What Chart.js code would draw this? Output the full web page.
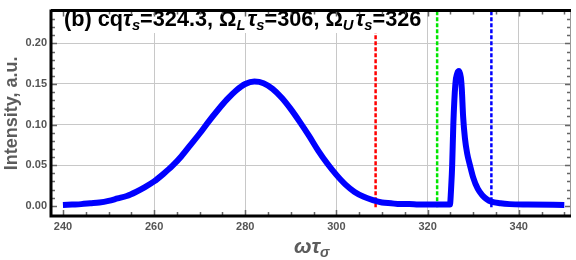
<!DOCTYPE html>
<html>
<head>
<meta charset="utf-8">
<script src="https://cdn.jsdelivr.net/npm/chart.js@4.4.1/dist/chart.umd.min.js"></script>
<style>
  html, body { margin: 0; padding: 0; background: #fff; }
  #wrap { width: 576px; height: 260px; }
</style>
</head>
<body>
<div id="wrap"><canvas id="spectrum" width="576" height="260"></canvas></div>
<script>
// omega*tau_sigma values and intensity
const omegaTau = [
  240, 242, 244, 246, 248, 250, 252, 254, 256, 258,
  260, 262, 264, 266, 268, 270, 272, 274, 276, 278,
  280, 282, 284, 286, 288, 290, 292, 294, 296, 298,
  300, 302, 304, 306, 308, 310, 312, 314, 316, 318,
  320, 322, 324, 324.9, 325.2, 325.4, 325.65, 326.1, 326.5, 326.9,
  327.3, 327.5, 327.8, 328.2, 328.7, 329.3, 330, 331, 332, 333,
  334, 336, 338, 342, 350
];
const intensity = [
  0.001, 0.0015, 0.002, 0.003, 0.004, 0.006, 0.009, 0.012, 0.017, 0.023,
  0.030, 0.039, 0.049, 0.061, 0.075, 0.089, 0.104, 0.118, 0.131, 0.142,
  0.150, 0.153, 0.151, 0.144, 0.133, 0.119, 0.103, 0.086, 0.068, 0.052,
  0.038, 0.026, 0.017, 0.011, 0.007, 0.004, 0.003, 0.002, 0.002, 0.0015,
  0.0015, 0.0015, 0.0015, 0.0015, 0.025, 0.05, 0.10, 0.15, 0.163, 0.166,
  0.158, 0.145, 0.11, 0.083, 0.064, 0.05, 0.035, 0.021, 0.013, 0.008,
  0.005, 0.003, 0.002, 0.0015, 0.001
];

// dashed reference lines (red, green, blue)
const markerPositions = [308.6, 322.1, 334.0];
const markerColors = ["#ff0000", "#00e600", "#0000ff"];

const xTicks = [240, 260, 280, 300, 320, 340];
const yTicks = [0, 0.05, 0.1, 0.15, 0.2];
const xRange = [237.6, 351.25];
const yRange = [-0.0114, 0.2392];

const curveData = omegaTau.map((x, i) => ({ x: x, y: intensity[i] }));

const markerSets = markerPositions.map((pos, i) => ({
  data: [{ x: pos, y: -0.002 }, { x: pos, y: yRange[1] }],
  borderColor: markerColors[i],
  borderWidth: 2.5,
  borderDash: [4, 2],
  pointRadius: 0,
  order: 2,
}));

// draw a list of text runs, some of them subscripts
function drawRuns(ctx, runs, x, y, size, color) {
  ctx.fillStyle = color;
  ctx.textBaseline = "alphabetic";
  ctx.textAlign = "left";
  runs.forEach((r) => {
    const s = r.sub ? size * 0.68 : size;
    ctx.font = `${r.style || ""} ${s}px "Liberation Sans", Arial, sans-serif`;
    ctx.fillText(r.t, x, r.sub ? y + size * 0.2 : y);
    x += ctx.measureText(r.t).width + (r.gap || 0);
  });
  return x;
}

const titleRuns = [
  { t: "(b) cq", style: "bold" },
  { t: "τ", style: "bold italic" },
  { t: "s", style: "bold italic", sub: true },
  { t: "=324.3, Ω", style: "bold" },
  { t: "L", style: "bold italic", sub: true, gap: 2 },
  { t: "τ", style: "bold italic" },
  { t: "s", style: "bold italic", sub: true },
  { t: "=306, Ω", style: "bold" },
  { t: "U", style: "bold italic", sub: true, gap: 2 },
  { t: "τ", style: "bold italic" },
  { t: "s", style: "bold italic", sub: true },
  { t: "=326", style: "bold" },
];

const labelPlugin = {
  id: "labels",
  afterDatasetsDraw(chart) {
    const ctx = chart.ctx;
    ctx.save();
    // white box behind the panel title
    ctx.fillStyle = "#fff";
    ctx.fillRect(58, 5, 368, 28);
    drawRuns(ctx, titleRuns, 64, 26, 21.7, "#000");
    ctx.restore();
  },
  afterDraw(chart) {
    const ctx = chart.ctx;
    const { left, right, top, bottom } = chart.chartArea;
    const x = chart.scales.x;
    const y = chart.scales.y;
    ctx.save();
    // small inward ticks on all four sides
    ctx.strokeStyle = "#666";
    ctx.lineWidth = 1.5;
    ctx.beginPath();
    for (let v = 240; v <= 350; v += 5) {
      const px = Math.round(x.getPixelForValue(v)) + 0.5;
      const len = v % 20 === 0 ? 5 : 3;
      ctx.moveTo(px, bottom); ctx.lineTo(px, bottom - len);
      ctx.moveTo(px, top); ctx.lineTo(px, top + len);
    }
    for (let k = 0; k <= 23; k++) {
      const py = Math.round(y.getPixelForValue(k / 100)) + 0.5;
      const len = k % 5 === 0 ? 5 : 3;
      ctx.moveTo(left, py); ctx.lineTo(left + len, py);
      ctx.moveTo(right, py); ctx.lineTo(right - len, py);
    }
    ctx.stroke();
    // frame
    ctx.strokeStyle = "#999";
    ctx.lineWidth = 1;
    ctx.beginPath();
    ctx.moveTo(right + 0.5, top); ctx.lineTo(right + 0.5, bottom);
    ctx.stroke();
    ctx.strokeStyle = "#000";
    ctx.lineWidth = 3;
    ctx.beginPath();
    ctx.moveTo(left - 1, top - 1); ctx.lineTo(right + 1, top - 1);
    ctx.moveTo(left - 1, top - 2); ctx.lineTo(left - 1, bottom + 1);
    ctx.lineTo(right + 1, bottom + 1);
    ctx.stroke();
    // x axis title: omega tau_sigma
    drawRuns(ctx, [
      { t: "ωτ", style: "bold italic" },
      { t: "σ", style: "bold italic", sub: true },
    ], 294, 253, 21, "#5c5c5c");
    ctx.restore();
  },
};

new Chart(document.getElementById("spectrum"), {
  type: "line",
  data: {
    datasets: [
      {
        data: curveData,
        borderColor: "#0000ff",
        borderWidth: 6,
        pointRadius: 0,
        cubicInterpolationMode: "monotone",
        borderCapStyle: "butt",
        order: 1,
      },
      ...markerSets,
    ],
  },
  options: {
    responsive: false,
    animation: false,
    events: [],
    layout: { padding: { top: 2, right: 6, left: 0, bottom: 0 } },
    plugins: { legend: { display: false }, tooltip: { enabled: false } },
    scales: {
      x: {
        type: "linear",
        min: xRange[0],
        max: xRange[1],
        afterBuildTicks: (scale) => {
          scale.ticks = xTicks.map((v) => ({ value: v }));
        },
        afterFit: (scale) => { scale.height = 45; },
        border: { display: false },
        grid: {
          drawTicks: false,
          color: (c) => (c.tick && c.tick.value === 240 ? "rgba(0,0,0,0)" : "#c8c8c8"),
        },
        ticks: {
          padding: 5,
          color: "#555",
          font: { family: "'Liberation Sans', Arial", size: 11, weight: "bold" },
          callback: (v) => String(v),
        },
      },
      y: {
        type: "linear",
        min: yRange[0],
        max: yRange[1],
        afterBuildTicks: (scale) => {
          scale.ticks = yTicks.map((v) => ({ value: v }));
        },
        afterFit: (scale) => { scale.width = 52; },
        border: { display: false },
        grid: {
          drawTicks: false,
          color: (c) => (c.tick && c.tick.value === 0 ? "rgba(0,0,0,0)" : "#c8c8c8"),
        },
        ticks: {
          padding: 5,
          color: "#555",
          font: { family: "'Liberation Sans', Arial", size: 11, weight: "bold" },
          callback: (v) => v.toFixed(2),
        },
        title: {
          display: true,
          text: "Intensity, a.u.",
          color: "#5c5c5c",
          padding: { top: 1, bottom: 0 },
          font: { family: "'Liberation Sans', Arial", size: 18, weight: "bold" },
        },
      },
    },
  },
  plugins: [labelPlugin],
});
</script>
</body>
</html>
